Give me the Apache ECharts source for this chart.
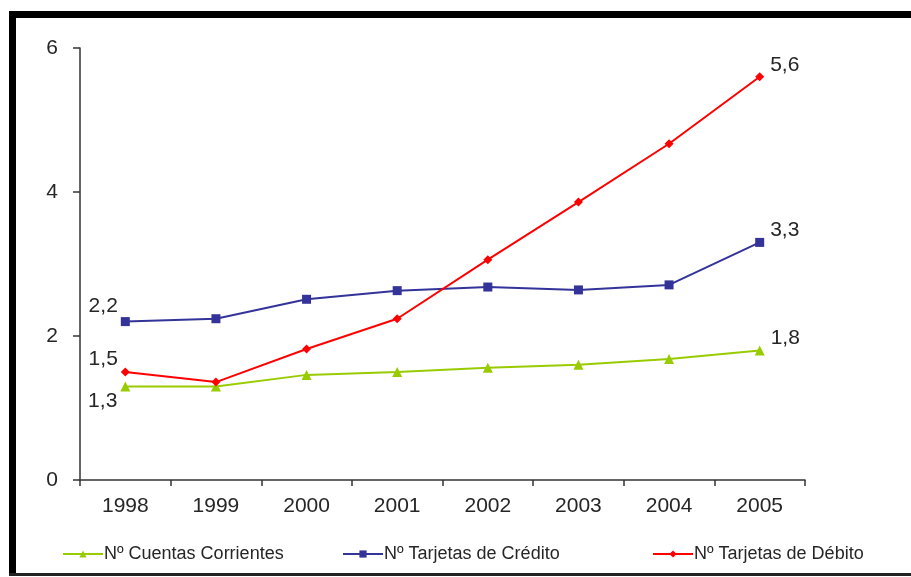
<!DOCTYPE html>
<html>
<head>
<meta charset="utf-8">
<title>Evolución de cuentas y tarjetas</title>
<script src="https://cdn.jsdelivr.net/npm/echarts@6/dist/echarts.min.js"></script>
<style>
  html, body { margin: 0; padding: 0; background: #fff; }
  #chart { width: 911px; height: 577px; }
</style>
</head>
<body>
<div id="chart"></div>
<script>
// Years on the category axis
const years = ['1998', '1999', '2000', '2001', '2002', '2003', '2004', '2005'];

// Series values (millions)
const cuentasCorrientes = [1.3, 1.3, 1.46, 1.5, 1.56, 1.6, 1.68, 1.8];
const tarjetasCredito   = [2.2, 2.24, 2.51, 2.63, 2.68, 2.64, 2.71, 3.3];
const tarjetasDebito    = [1.5, 1.36, 1.82, 2.24, 3.06, 3.86, 4.67, 5.6];

// Value-axis ticks
const yTicks = [0, 2, 4, 6];

const names = ['Nº Cuentas Corrientes', 'Nº Tarjetas de Crédito', 'Nº Tarjetas de Débito'];
const colors = ['#99cc00', '#333399', '#ff0000'];

const FONT = '"Liberation Sans", Arial, sans-serif';
const fmt = v => String(v).replace('.', ',');

// Only the first and last point of each line carry a value label
function withEndLabels(values, firstOffset) {
  return values.map((v, i) => {
    if (i === 0) {
      return { value: v, label: { show: true, position: 'left', distance: 3, offset: firstOffset } };
    }
    if (i === values.length - 1) {
      return { value: v, label: { show: true, position: 'right', distance: 6, offset: [0, -12] } };
    }
    return v;
  });
}

const chart = echarts.init(document.getElementById('chart'), null, { renderer: 'canvas' });

const labelStyle = {
  color: '#262626',
  fontSize: 21,
  fontFamily: FONT,
  formatter: p => fmt(p.value)
};

function lineSeries(idx, values, symbol, size, firstOffset) {
  return {
    name: names[idx],
    type: 'line',
    data: withEndLabels(values, firstOffset),
    symbol: symbol,
    symbolSize: size,
    showSymbol: true,
    color: colors[idx],
    lineStyle: { width: 2, color: colors[idx] },
    itemStyle: { color: colors[idx] },
    label: Object.assign({ show: false }, labelStyle),
    emphasis: { disabled: true },
    animation: false,
    z: 3 + idx
  };
}

function legendAt(idx, left) {
  return {
    data: [names[idx]],
    left: left,
    top: 540,
    itemWidth: 40,
    itemHeight: 9,
    textStyle: { color: '#262626', fontSize: 18, fontFamily: FONT, padding: [0, 0, 0, -4] },
    selectedMode: false
  };
}

chart.setOption({
  backgroundColor: '#ffffff',
  animation: false,
  grid: { left: 80, right: 106, top: 48, bottom: 97, containLabel: false },
  legend: [legendAt(0, 57), legendAt(1, 337), legendAt(2, 647)],
  xAxis: {
    type: 'category',
    data: years,
    boundaryGap: true,
    axisLine: { lineStyle: { color: '#333', width: 1.5 } },
    axisTick: { show: true, length: 6, lineStyle: { color: '#333', width: 1.5 } },
    axisLabel: { color: '#262626', fontSize: 21, fontFamily: FONT, margin: 16 }
  },
  yAxis: {
    type: 'value',
    min: yTicks[0],
    max: yTicks[yTicks.length - 1],
    interval: 2,
    splitLine: { show: false },
    axisLine: { show: true, lineStyle: { color: '#333', width: 1.5 } },
    axisTick: { show: true, length: 7, lineStyle: { color: '#333', width: 1.5 } },
    axisLabel: { color: '#262626', fontSize: 21, fontFamily: FONT, margin: 22 }
  },
  series: [
    lineSeries(0, cuentasCorrientes, 'triangle', 10, [0, 15]),
    lineSeries(1, tarjetasCredito, 'rect', 9, [0, -15]),
    lineSeries(2, tarjetasDebito, 'diamond', 9, [0, -13])
  ],
  graphic: [
    // frame around the chart
    { type: 'rect', shape: { x: 9, y: 11, width: 902, height: 7 }, style: { fill: '#000' } },
    { type: 'rect', shape: { x: 9, y: 11, width: 7, height: 565 }, style: { fill: '#000' } },
    { type: 'rect', shape: { x: 9, y: 573, width: 902, height: 3 }, style: { fill: '#222' } }
  ]
});
</script>
</body>
</html>
